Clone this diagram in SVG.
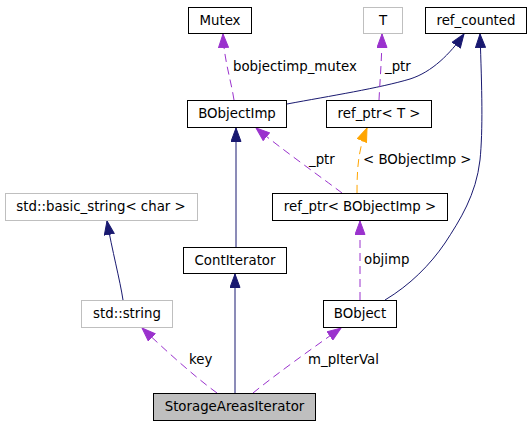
<svg xmlns="http://www.w3.org/2000/svg" width="532" height="427" viewBox="0 0 532 427">
<style>
text{font-family:"DejaVu Sans","Bitstream Vera Sans",sans-serif;font-size:13.33px;fill:#000}
.n rect{fill:#fff;stroke:#000;stroke-width:1}
.n.g rect{stroke:#bfbfbf}
.n.cur rect{fill:#bfbfbf}
.n text{text-anchor:middle}
.e{fill:none;stroke-width:1}
.inh{stroke:#191970}
.use{stroke:#9a32cd;stroke-dasharray:8,5}
.tpl{stroke:#ffa500;stroke-dasharray:8,5}
</style>
<defs>
<marker id="aN" markerUnits="userSpaceOnUse" markerWidth="15" markerHeight="11" viewBox="0 0 15 11" refX="14" refY="5.5" orient="auto"><path d="M0.5,0.5 L14,5.5 L0.5,10.5 z" fill="#191970" stroke="#191970"/></marker>
<marker id="aP" markerUnits="userSpaceOnUse" markerWidth="15" markerHeight="11" viewBox="0 0 15 11" refX="14" refY="5.5" orient="auto"><path d="M0.5,0.5 L14,5.5 L0.5,10.5 z" fill="#9a32cd" stroke="#9a32cd"/></marker>
<marker id="aO" markerUnits="userSpaceOnUse" markerWidth="15" markerHeight="11" viewBox="0 0 15 11" refX="14" refY="5.5" orient="auto"><path d="M0.5,0.5 L14,5.5 L0.5,10.5 z" fill="#ffa500" stroke="#ffa500"/></marker>
</defs>
<rect width="532" height="427" fill="#fff"/>
<g id="edges">
<path class="e use" d="M234,100 C231,80 224,60 223,34" marker-end="url(#aP)"/>
<text x="233" y="71">bobjectimp_mutex</text>
<path class="e inh" d="M287,104 C330,96 380,88 410,79 C432,72 450,54 464,34" marker-end="url(#aN)"/>
<path class="e use" d="M379,100 C380,80 382,55 382,34" marker-end="url(#aP)"/>
<text x="385" y="71">_ptr</text>
<path class="e inh" d="M385,300 C410,285 430,265 445,243 C460,220 476,195 480,160 C483,130 482,90 480,34" marker-end="url(#aN)"/>
<path class="e inh" d="M236,247 L236,128" marker-end="url(#aN)"/>
<path class="e use" d="M342,193 C325,180 280,148 256,128" marker-end="url(#aP)"/>
<text x="309" y="164">_ptr</text>
<path class="e tpl" d="M357,193 C357,170 358,150 367,128" marker-end="url(#aO)"/>
<text x="363" y="164">&lt; BObjectImp &gt;</text>
<path class="e use" d="M360,300 L360,221" marker-end="url(#aP)"/>
<text x="364" y="264">objimp</text>
<path class="e inh" d="M235,393 L235,274" marker-end="url(#aN)"/>
<path class="e use" d="M217,393 C195,377 165,350 142,328" marker-end="url(#aP)"/>
<text x="189" y="364">key</text>
<path class="e use" d="M253,393 C275,375 310,350 341,328" marker-end="url(#aP)"/>
<text x="308" y="364">m_pIterVal</text>
<path class="e inh" d="M123,300 C120,280 112,250 107,221" marker-end="url(#aN)"/>
</g>
<g id="Mutex" class="n"><rect x="188.5" y="7.5" width="63" height="26"/><text x="220" y="25">Mutex</text></g>
<g id="T" class="n g"><rect x="363.5" y="7.5" width="39" height="26"/><text x="383" y="25">T</text></g>
<g id="ref_counted" class="n"><rect x="425.5" y="7.5" width="101" height="26"/><text x="476" y="25">ref_counted</text></g>
<g id="BObjectImp" class="n"><rect x="187.5" y="100.5" width="99" height="27"/><text x="237" y="118">BObjectImp</text></g>
<g id="ref_ptr_T" class="n"><rect x="326.5" y="100.5" width="105" height="27"/><text x="379" y="118">ref_ptr&lt; T &gt;</text></g>
<g id="basic_string" class="n g"><rect x="5.5" y="193.5" width="192" height="27"/><text x="101" y="211">std::basic_string&lt; char &gt;</text></g>
<g id="ref_ptr_BObjectImp" class="n"><rect x="272.5" y="193.5" width="175" height="27"/><text x="360" y="211">ref_ptr&lt; BObjectImp &gt;</text></g>
<g id="ContIterator" class="n"><rect x="183.5" y="247.5" width="103" height="26"/><text x="235" y="265">ContIterator</text></g>
<g id="std_string" class="n g"><rect x="81.5" y="300.5" width="91" height="27"/><text x="127" y="318">std::string</text></g>
<g id="BObject" class="n"><rect x="323.5" y="300.5" width="73" height="27"/><text x="360" y="318">BObject</text></g>
<g id="StorageAreasIterator" class="n cur"><rect x="153.5" y="393.5" width="162" height="27"/><text x="234.5" y="411">StorageAreasIterator</text></g>
</svg>
